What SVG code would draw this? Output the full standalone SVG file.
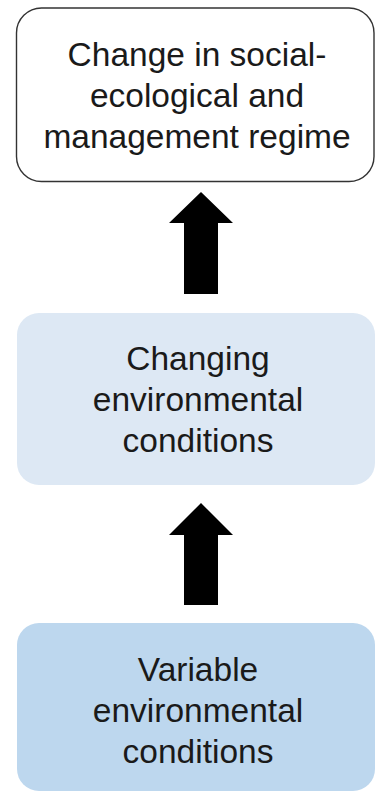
<svg xmlns="http://www.w3.org/2000/svg" width="376" height="792" viewBox="0 0 376 792">
<style>
.t{font-family:"Liberation Sans",Arial,sans-serif;font-size:33.5px;fill:#1a1a1a;text-anchor:middle}
.arr{fill:#000}
</style>
<rect width="376" height="792" fill="#fff"/>
<g id="connectors">
<polygon class="arr" points="201,192 233,223 218,223 218,294 184,294 184,223 169,223"/>
<polygon class="arr" points="201,503 233,535 218,535 218,605 184,605 184,535 169,535"/>
</g>
<g id="regime">
<rect x="16.5" y="8" width="357.5" height="173.5" rx="25" ry="25" fill="#fff" stroke="#333" stroke-width="1.4"/>
<text class="t" x="197" y="66">Change in social-</text>
<text class="t" x="197" y="107">ecological and</text>
<text class="t" x="197" y="148">management regime</text>
</g>
<g id="changing">
<rect x="17" y="313" width="358" height="172" rx="22" ry="22" fill="#dde8f4"/>
<text class="t" x="198" y="370">Changing</text>
<text class="t" x="198" y="411">environmental</text>
<text class="t" x="198" y="452">conditions</text>
</g>
<g id="variable">
<rect x="17" y="623" width="358" height="168" rx="22" ry="22" fill="#bdd7ee"/>
<text class="t" x="198" y="681">Variable</text>
<text class="t" x="198" y="722">environmental</text>
<text class="t" x="198" y="763">conditions</text>
</g>
</svg>
